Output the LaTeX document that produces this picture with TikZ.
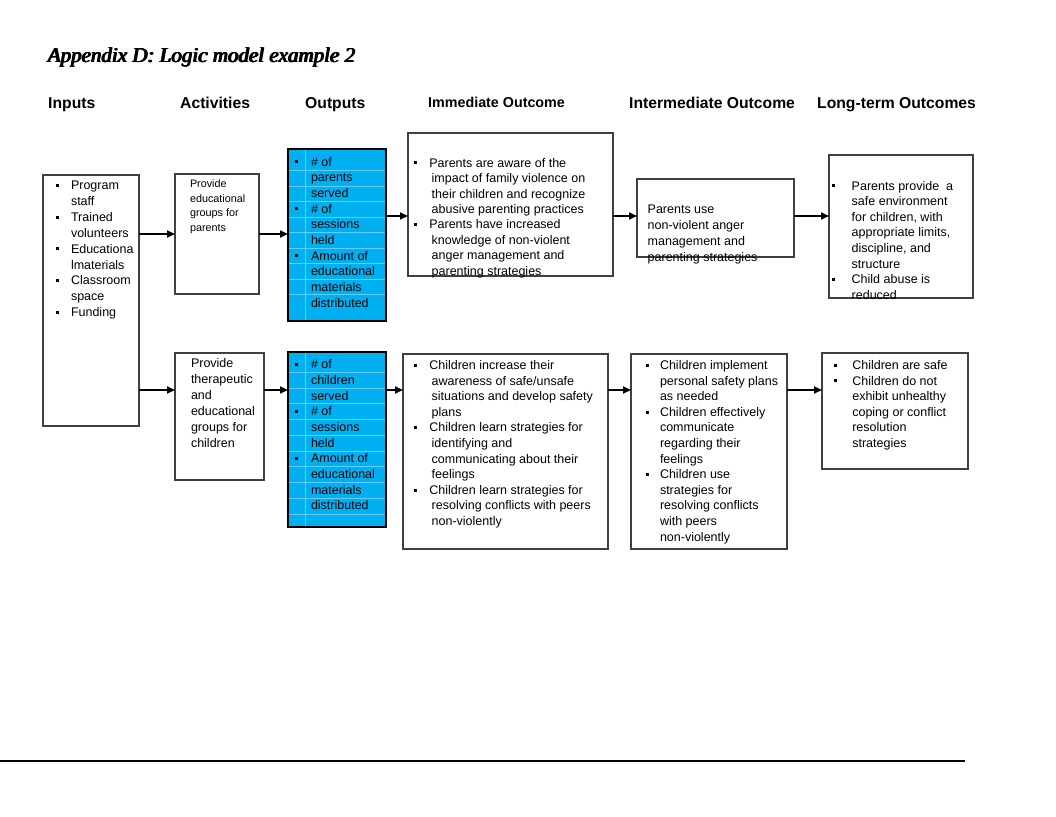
\documentclass[tikz,border=0pt]{standalone}
\usepackage{fontspec}
\setmainfont{Liberation Sans}
\font\ttlfnt="Liberation Serif/I" at 21pt
\usetikzlibrary{arrows.meta}
\definecolor{skyb}{RGB}{0,176,240}
\definecolor{gridb}{RGB}{100,205,248}
\newcommand{\bul}{\rule[2.8pt]{3pt}{3pt}}
\newcommand{\ci}{\hspace*{2.4pt}}
\newcommand{\fkbold}[1]{\rlap{#1}\hspace{0.45pt}\rlap{#1}\hspace{0.45pt}\rlap{#1}\hspace{0.45pt}#1}
\tikzset{
  box/.style={draw=black!75, line width=1.1pt, anchor=north west, inner sep=0pt, outer sep=0pt},
  obox/.style={box, draw=black, fill=skyb},
  arr/.style={line width=1.8pt, -{Triangle[length=8pt,width=7pt]}},
  txt/.style={anchor=base west, inner sep=0pt, outer sep=0pt},
  hdr/.style={anchor=base west, inner sep=0pt, font=\fontsize{15.7}{18}\selectfont\bfseries},
  gridl/.style={draw=gridb, line width=0.6pt}
}
\begin{document}
\begin{tikzpicture}[x=1pt,y=-1pt]
\useasboundingbox (0,0) rectangle (1056,816);

% title and headers
\node[anchor=base west, inner sep=0pt, font=\ttlfnt] (title) at (47,63) {\fkbold{Appendix D: Logic model example 2}};
\node[hdr] (h1) at (48,108.5) {Inputs};
\node[hdr] (h2) at (180,108.5) {Activities};
\node[hdr] (h3) at (305,108.5) {Outputs};
\node[hdr, font=\fontsize{14.3}{16}\selectfont\bfseries] (h4) at (428,107.5) {Immediate Outcome};
\node[hdr] (h5) at (629,108.5) {Intermediate Outcome};
\node[hdr] (h6) at (817,108.5) {Long-term Outcomes};

% output boxes (blue, with grid)
\node[obox, minimum width=98pt, minimum height=172pt] (out1) at (288,149) {};
\node[obox, minimum width=98pt, minimum height=175pt] (out2) at (288,352) {};
\foreach \k in {0,...,8} {
  \draw[gridl] (288.6,170.7+\k*15.45) -- (385.4,170.7+\k*15.45);
}
\foreach \k in {0,...,9} {
  \draw[gridl] (288.6,372.3+\k*15.74) -- (385.4,372.3+\k*15.74);
}
\draw[gridl] (305.7,149.6) -- (305.7,320.4);
\draw[gridl] (305.7,352.6) -- (305.7,526.4);
\node[obox, fill=none, minimum width=98pt, minimum height=172pt] at (288,149) {};
\node[obox, fill=none, minimum width=98pt, minimum height=175pt] at (288,352) {};

% white boxes
\node[box, minimum width=96pt, minimum height=251pt] (inp) at (43,175) {};
\node[box, minimum width=84pt, minimum height=120pt] (act1) at (175,174) {};
\node[box, minimum width=89pt, minimum height=127pt] (act2) at (175,353) {};
\node[box, minimum width=205pt, minimum height=143pt] (imm1) at (408,133) {};
\node[box, minimum width=205pt, minimum height=195pt] (imm2) at (403,354) {};
\node[box, minimum width=157pt, minimum height=78pt] (int1) at (637,179) {};
\node[box, minimum width=156pt, minimum height=195pt] (int2) at (631,354) {};
\node[box, minimum width=144pt, minimum height=143pt] (lt1) at (829,155) {};
\node[box, minimum width=146pt, minimum height=116pt] (lt2) at (822,353) {};

% texts
\node[txt, font=\fontsize{12.5}{15.9}\selectfont] (tinp) at (55.7,189.5) {\begin{tabular}[t]{@{}p{15.3pt}@{}l@{}}
\bul & Program\\ & staff\\ \bul & Trained\\ & volunteers\\ \bul & Educationa\\ & lmaterials\\ \bul & Classroom\\ & space\\ \bul & Funding
\end{tabular}};

\node[txt, font=\fontsize{10.8}{14.7}\selectfont] (tact1) at (190,187.5) {\begin{tabular}[t]{@{}l@{}}
Provide\\ educational\\ groups for\\ parents
\end{tabular}};

\node[txt, font=\fontsize{12.5}{16}\selectfont] (tact2) at (191,367.5) {\begin{tabular}[t]{@{}l@{}}
Provide\\ therapeutic\\ and\\ educational\\ groups for\\ children
\end{tabular}};

\node[txt, font=\fontsize{12.5}{15.7}\selectfont] (tout1) at (295,166) {\begin{tabular}[t]{@{}p{16pt}@{}l@{}}
\bul & \# of\\ & parents\\ & served\\ \bul & \# of\\ & sessions\\ & held\\ \bul & Amount of\\ & educational\\ & materials\\ & distributed
\end{tabular}};

\node[txt, font=\fontsize{12.5}{15.7}\selectfont] (tout2) at (295,368.6) {\begin{tabular}[t]{@{}p{16pt}@{}l@{}}
\bul & \# of\\ & children\\ & served\\ \bul & \# of\\ & sessions\\ & held\\ \bul & Amount of\\ & educational\\ & materials\\ & distributed
\end{tabular}};

\node[txt, font=\fontsize{12.5}{15.4}\selectfont] (timm1) at (414.3,167.2) {\begin{tabular}[t]{@{}p{15pt}@{}l@{}}
\bul & Parents are aware of the\\ & \ci impact of family violence on\\ & \ci their children and recognize\\ & \ci abusive parenting practices\\
\bul & Parents have increased\\ & \ci knowledge of non-violent\\ & \ci anger management and\\ & \ci parenting strategies
\end{tabular}};

\node[txt, font=\fontsize{12.5}{15.6}\selectfont] (timm2) at (414.3,369.5) {\begin{tabular}[t]{@{}p{15pt}@{}l@{}}
\bul & Children increase their\\ & \ci awareness of safe/unsafe\\ & \ci situations and develop safety\\ & \ci plans\\
\bul & Children learn strategies for\\ & \ci identifying and\\ & \ci communicating about their\\ & \ci feelings\\
\bul & Children learn strategies for\\ & \ci resolving conflicts with peers\\ & \ci non-violently
\end{tabular}};

\node[txt, font=\fontsize{12.5}{15.9}\selectfont] (tint1) at (647.7,213.5) {\begin{tabular}[t]{@{}l@{}}
Parents use\\ non-violent anger\\ management and\\ parenting strategies
\end{tabular}};

\node[txt, font=\fontsize{12.5}{15.6}\selectfont] (tint2) at (645.5,369.5) {\begin{tabular}[t]{@{}p{14.5pt}@{}l@{}}
\bul & Children implement\\ & personal safety plans\\ & as needed\\
\bul & Children effectively\\ & communicate\\ & regarding their\\ & feelings\\
\bul & Children use\\ & strategies for\\ & resolving conflicts\\ & with peers\\ & non-violently
\end{tabular}};

\node[txt, font=\fontsize{12.5}{15.6}\selectfont] (tlt1) at (832,190) {\begin{tabular}[t]{@{}p{19.7pt}@{}l@{}}
\bul & Parents provide\ \ a\\ & safe environment\\ & for children, with\\ & appropriate limits,\\ & discipline, and\\ & structure\\
\bul & Child abuse is\\ & reduced
\end{tabular}};

\node[txt, font=\fontsize{12.5}{15.5}\selectfont] (tlt2) at (834,369.5) {\begin{tabular}[t]{@{}p{18.3pt}@{}l@{}}
\bul & Children are safe\\ \bul & Children do not\\ & exhibit unhealthy\\ & coping or conflict\\ & resolution\\ & strategies
\end{tabular}};

% arrow rows
\coordinate (rowA) at (0,234);
\coordinate (rowB) at (0,216);
\coordinate (rowC) at (0,390);

\draw[arr] (inp.east |- rowA) -- (act1.west |- rowA);
\draw[arr] (act1.east |- rowA) -- (out1.west |- rowA);
\draw[arr] (out1.east |- rowB) -- (imm1.west |- rowB);
\draw[arr] (imm1.east |- rowB) -- (int1.west |- rowB);
\draw[arr] (int1.east |- rowB) -- (lt1.west |- rowB);

\draw[arr] (inp.east |- rowC) -- (act2.west |- rowC);
\draw[arr] (act2.east |- rowC) -- (out2.west |- rowC);
\draw[arr] (out2.east |- rowC) -- (imm2.west |- rowC);
\draw[arr] (imm2.east |- rowC) -- (int2.west |- rowC);
\draw[arr] (int2.east |- rowC) -- (lt2.west |- rowC);

% bottom rule
\draw[line width=2pt] (0,761) -- (965,761);
\end{tikzpicture}
\end{document}
